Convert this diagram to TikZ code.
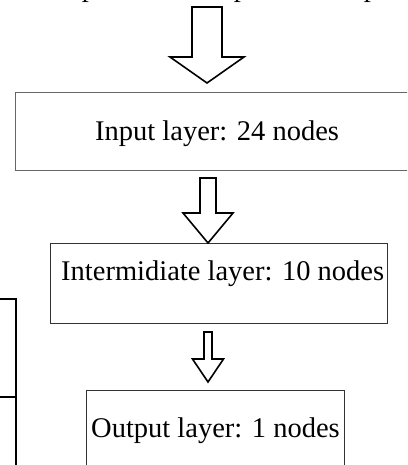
\documentclass[tikz,border=0pt]{standalone}
\usepackage{fontspec}
\setmainfont{Liberation Serif}
\tikzset{
  layerbox/.style={draw, line width=0.9pt, inner sep=0pt},
  layertext/.style={anchor=base west, inner sep=0pt, font=\fontsize{28.5}{34}\selectfont},
  blockarrow/.style={draw=black, line width=1.6pt, line join=miter, fill=white},
  bracketline/.style={draw=black, line width=1.6pt},
}
% hollow block arrow: shaft top y, shaft half width, wing y, head half width, tip
\newcommand{\hollowarrow}[6]{%
  \path[blockarrow] (#1) ++(-#3,#2) -- ++(0,#4-#2) -- ++(#3-#5,0) -- (#1 |- 0,#6)
    -- ++(#5,#4-#6) -- ++(#3-#5,0) -- ++(0,#2-#4) -- cycle;}
\begin{document}
\begin{tikzpicture}[x=1pt,y=-1pt]
  \useasboundingbox (0,0) rectangle (407,465);
  \clip (0,0) rectangle (407,465);

  % descenders of the caption line above
  \foreach \px/\nm in {89/pa,241/pb,371/pc}
    \node[layertext, anchor=base] (\nm) at (\px,-3.2) {p};

  % layer boxes
  \node[layerbox, draw=black!60, minimum width=405pt, minimum height=78pt, anchor=north west] (inbox) at (15,92) {};
  \node[layerbox, draw=black!80, minimum width=337pt, minimum height=80pt, anchor=north west] (midbox) at (50,243) {};
  \node[layerbox, draw=black!80, minimum width=258pt, minimum height=90pt, anchor=north west] (outbox) at (86,390) {};

  \node[layertext] (intxt) at (95,141) {Input layer: 24 nodes};
  \node[layertext] (midtxt) at (61,280) {Intermidiate layer: 10 nodes};
  \node[layertext] (outtxt) at (91,437) {Output layer: 1 nodes};

  % block arrows between layers
  \coordinate (a1) at (207,0);
  \coordinate (a2) at (208,0);
  \coordinate (a3) at (208,0);
  \hollowarrow{a1}{7}{15}{57}{37}{83}
  \hollowarrow{a2}{178}{8}{213}{25}{243}
  \hollowarrow{a3}{332}{4}{359}{15.5}{382}

  % bracket on the left edge
  \coordinate (b1) at (-5,299);
  \coordinate (b2) at (16,470);
  \coordinate (b3) at (-5,397);
  \coordinate (b4) at (17,397);
  \path[bracketline] (b1) -| (b2);
  \path[bracketline] (b3) -- (b4);
\end{tikzpicture}
\end{document}
